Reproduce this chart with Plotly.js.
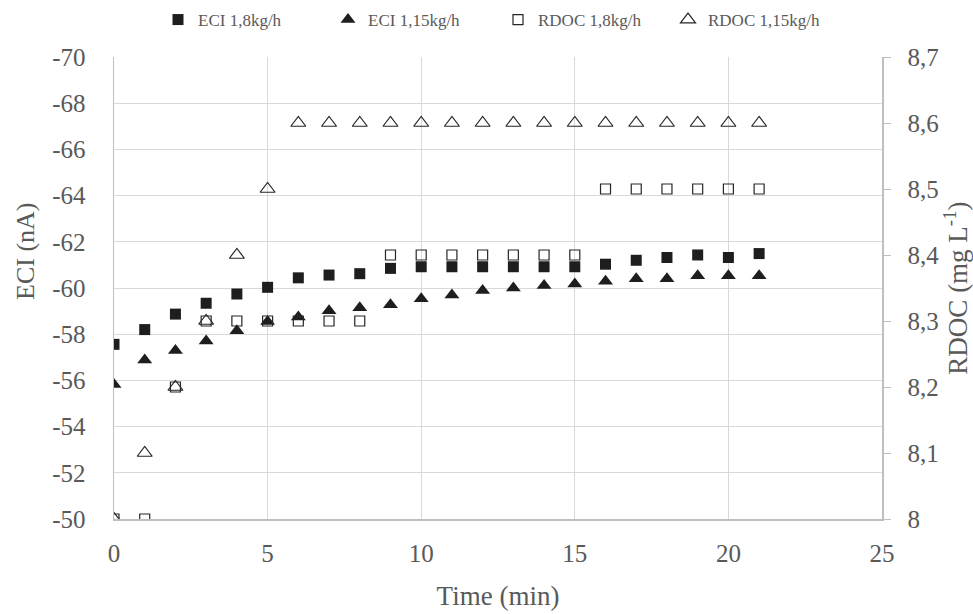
<!DOCTYPE html>
<html>
<head>
<meta charset="utf-8">
<script src="https://cdn.plot.ly/plotly-3.0.1.min.js"></script>
<style>html,body{margin:0;padding:0;background:#fff;}#chart{width:973px;height:614px;}</style>
</head>
<body>
<div id="chart"></div>
<script>
const time = [0,1,2,3,4,5,6,7,8,9,10,11,12,13,14,15,16,17,18,19,20,21];
const eci18 = [-57.56,-58.2,-58.87,-59.34,-59.74,-60.03,-60.44,-60.56,-60.62,-60.85,-60.92,-60.92,-60.92,-60.92,-60.92,-60.92,-61.03,-61.2,-61.32,-61.43,-61.32,-61.49];
const eci115 = [-55.82,-56.88,-57.29,-57.71,-58.15,-58.55,-58.75,-59.01,-59.14,-59.28,-59.53,-59.7,-59.89,-60.0,-60.11,-60.17,-60.29,-60.4,-60.4,-60.53,-60.53,-60.53];
const rdoc18 = [8.0,8.0,8.2,8.3,8.3,8.3,8.3,8.3,8.3,8.4,8.4,8.4,8.4,8.4,8.4,8.4,8.5,8.5,8.5,8.5,8.5,8.5];
const rdoc115 = [8.0,8.1,8.2,8.3,8.4,8.5,8.6,8.6,8.6,8.6,8.6,8.6,8.6,8.6,8.6,8.6,8.6,8.6,8.6,8.6,8.6,8.6];
const seriesNames = ["ECI 1,8kg/h","ECI 1,15kg/h","RDOC 1,8kg/h","RDOC 1,15kg/h"];
const xTicks = [0,5,10,15,20,25];
const eciTicks = [-70,-68,-66,-64,-62,-60,-58,-56,-54,-52,-50];
const eciTickText = ["-70","-68","-66","-64","-62","-60","-58","-56","-54","-52","-50"];
const rdocTicks = [8.0,8.1,8.2,8.3,8.4,8.5,8.6,8.7];
const rdocTickText = ["8","8,1","8,2","8,3","8,4","8,5","8,6","8,7"];
const titles = {x: "Time (min)", y: "ECI (nA)", y2: "RDOC (mg L<sup>-1</sup>)"};

const FONT = "Liberation Serif";
const GRAY = "#595959";
const DARK = "#1e1e1e";

const traces = [
  {x: time, y: eci18, name: seriesNames[0], type: "scatter", mode: "markers",
   marker: {symbol: "square", size: 11, color: DARK}},
  {x: time, y: eci115, name: seriesNames[1], type: "scatter", mode: "markers",
   marker: {symbol: "triangle-up", size: 13, color: DARK}},
  {x: time, y: rdoc18, name: seriesNames[2], type: "scatter", mode: "markers", yaxis: "y2",
   marker: {symbol: "square-open", size: 10, color: "#262626", line: {width: 1.2, color: "#262626"}}},
  {x: time, y: rdoc115, name: seriesNames[3], type: "scatter", mode: "markers", yaxis: "y2",
   marker: {symbol: "triangle-up-open", size: 13, color: "#262626", line: {width: 1.2, color: "#262626"}}}
];

const layout = {
  width: 973, height: 614,
  margin: {l: 114, r: 91, t: 57, b: 95},
  paper_bgcolor: "#fff", plot_bgcolor: "#fff",
  separators: ",.",
  font: {family: FONT, color: GRAY, size: 25},
  showlegend: true,
  legend: {orientation: "h", x: 0.5, xanchor: "center", xref: "paper",
           yref: "container", y: 1 - 20/614, yanchor: "middle",
           entrywidth: 125, entrywidthmode: "pixels",
           font: {family: FONT, size: 17, color: GRAY}, itemwidth: 30, traceorder: "normal"},
  xaxis: {range: [0, 25], tickvals: xTicks, showgrid: true, gridcolor: "#d9d9d9", gridwidth: 1,
          showline: true, linecolor: "#bfbfbf", linewidth: 1.5, zeroline: false, ticks: "",
          ticklabelstandoff: 11,
          tickfont: {family: FONT, size: 25, color: GRAY},
          title: {text: titles.x, font: {family: FONT, size: 27, color: GRAY}, standoff: 20}},
  yaxis: {range: [-50, -70], tickvals: eciTicks, ticktext: eciTickText, showgrid: true,
          gridcolor: "#d9d9d9", gridwidth: 1, showline: true, linecolor: "#bfbfbf", linewidth: 1.5,
          zeroline: false, ticks: "", ticklabelstandoff: 22,
          tickfont: {family: FONT, size: 25, color: GRAY}},
  yaxis2: {range: [8, 8.7], overlaying: "y", side: "right", tickvals: rdocTicks, ticktext: rdocTickText,
           showgrid: false, showline: true, linecolor: "#bfbfbf", linewidth: 1.5, zeroline: false,
           ticks: "outside", ticklen: 7, tickcolor: "#bfbfbf", tickwidth: 1, ticklabelstandoff: 12,
           tickfont: {family: FONT, size: 25, color: GRAY},
           title: {text: titles.y2, font: {family: FONT, size: 27, color: GRAY}, standoff: 17}},
  annotations: [
    {text: titles.y, textangle: -90, xref: "paper", yref: "paper", x: 0, xshift: -89,
     y: (519 - 252) / 462, yanchor: "middle", xanchor: "center", showarrow: false,
     font: {family: FONT, size: 26, color: GRAY}}
  ]
};

Plotly.newPlot("chart", traces, layout, {displayModeBar: false, staticPlot: true});
</script>
</body>
</html>
